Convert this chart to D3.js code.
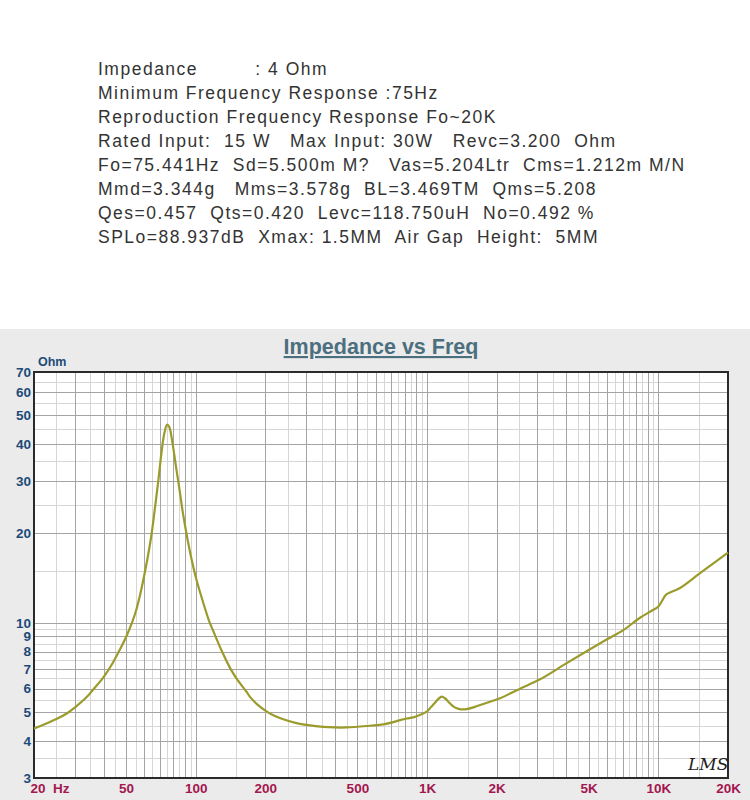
<!DOCTYPE html>
<html>
<head>
<meta charset="utf-8">
<script src="https://cdn.jsdelivr.net/npm/d3@7"></script>
<style>
  html, body { margin: 0; padding: 0; background: #fff; }
  svg { display: block; }
</style>
</head>
<body>
<div id="chart"></div>
<script>
// especificacoes do alto-falante (texto de cima)
var specLines = [
    "Impedance         : 4 Ohm",
    "Minimum Frequency Response :75Hz",
    "Reproduction Frequency Response Fo~20K",
    "Rated Input:  15 W   Max Input: 30W   Revc=3.200  Ohm",
    "Fo=75.441Hz  Sd=5.500m M?   Vas=5.204Ltr  Cms=1.212m M/N",
    "Mmd=3.344g   Mms=3.578g  BL=3.469TM  Qms=5.208",
    "Qes=0.457  Qts=0.420  Levc=118.750uH  No=0.492 %",
    "SPLo=88.937dB  Xmax: 1.5MM  Air Gap  Height:  5MM"
];

// curva de impedancia
var freqs = [20, 21.2, 25, 27.7, 30, 33.8, 36, 39.9, 43, 47.1, 50.3, 53.4, 55.6, 58, 61, 64.2,
    66.5, 68.9, 71.3, 73.2, 75.2, 76.8, 79.5, 82, 84.9, 88, 91, 95, 100, 105, 114, 119, 130,
    140.7, 150, 166, 172, 185, 203, 220, 239, 270, 302, 356, 400, 449, 549, 647, 715, 770, 817,
    872, 930, 997, 1040, 1083, 1120, 1157, 1195, 1236, 1290, 1344, 1400, 1485, 1600, 1751, 2068,
    2524, 3079, 4000, 5000, 6000, 7054, 8332, 9400, 10000, 10400, 10800, 12406, 15136, 20000];
var impedance = [4.4, 4.48, 4.74, 4.95, 5.18, 5.62, 5.95, 6.55, 7.15, 8.15, 9.05, 10.15, 11.2, 12.8, 15.5, 19.5,
    24, 30, 38, 43.5, 46.5, 45.8, 40, 34, 28.5, 23.5, 20.2, 17, 14.3, 12.5, 10.2, 9.4, 8.0,
    7.05, 6.5, 5.85, 5.62, 5.3, 5.02, 4.85, 4.73, 4.6, 4.53, 4.46, 4.44, 4.44, 4.49, 4.55, 4.63, 4.71, 4.76,
    4.8, 4.89, 5.02, 5.2, 5.38, 5.54, 5.64, 5.57, 5.42, 5.25, 5.15, 5.11, 5.12, 5.2, 5.33, 5.57,
    6.0, 6.45, 7.3, 8.1, 8.8, 9.45, 10.4, 11.0, 11.35, 11.9, 12.45, 13.1, 14.7, 17.25];

var xTickValues = [20, 50, 100, 200, 500, 1000, 2000, 5000, 10000, 20000];
var xTickLabels = ["20  Hz", "50", "100", "200", "500", "1K", "2K", "5K", "10K", "20K"];
var yTickValues = [3, 4, 5, 6, 7, 8, 9, 10, 20, 30, 40, 50, 60, 70];

var W = 750, H = 800;
var margem = {left: 34, right: 22, top: 372, bottom: 22};
var fonte = "'Liberation Sans', Arial, sans-serif";

var svg = d3.select("#chart").append("svg")
    .attr("width", W)
    .attr("height", H);

// bloco de texto
svg.append("g").selectAll("text")
    .data(specLines)
    .enter().append("text")
    .attr("x", 98)
    .attr("y", function(d, i) { return 75 + i * 24; })
    .attr("xml:space", "preserve")
    .style("white-space", "pre")
    .style("font-family", fonte)
    .style("font-size", "17.5px")
    .style("letter-spacing", "1.5px")
    .style("fill", "#333")
    .text(function(d) { return d; });

// fundo cinza do grafico
svg.append("rect")
    .attr("x", 0).attr("y", 329)
    .attr("width", W).attr("height", H - 329)
    .attr("fill", "#ebebeb");

var x = d3.scaleLog().domain([20, 20000]).range([margem.left, W - margem.right]);
var y = d3.scaleLog().domain([3, 70]).range([H - margem.bottom, margem.top]);

svg.append("rect")
    .attr("x", x(20)).attr("y", y(70))
    .attr("width", x(20000) - x(20)).attr("height", y(3) - y(70))
    .attr("fill", "#fff");

// linhas de grade: inteiras (escuras) e meios (claras)
var gradeX = [], gradeXmenor = [];
[10, 100, 1000, 10000].forEach(function(dec) {
    for (var k = 1; k < 10; k++) {
        var v = k * dec;
        if (v > 20 && v < 20000) gradeX.push(v);
        var m = (k + 0.5) * dec;
        if (m > 20 && m < 20000) gradeXmenor.push(m);
    }
});
var gradeY = [4, 5, 6, 7, 8, 9, 10, 20, 30, 40, 50, 60];
var gradeYmenor = [3.5, 4.5, 5.5, 6.5, 7.5, 8.5, 9.5, 15, 25, 35, 45, 55, 65];

var grade = svg.append("g").attr("class", "grade");
grade.selectAll(".vmenor").data(gradeXmenor).enter().append("line")
    .attr("x1", function(d) { return Math.round(x(d)) + 0.5; })
    .attr("x2", function(d) { return Math.round(x(d)) + 0.5; })
    .attr("y1", y(70)).attr("y2", y(3))
    .attr("stroke", "#d6d6d6");
grade.selectAll(".hmenor").data(gradeYmenor).enter().append("line")
    .attr("y1", function(d) { return Math.round(y(d)) + 0.5; })
    .attr("y2", function(d) { return Math.round(y(d)) + 0.5; })
    .attr("x1", x(20)).attr("x2", x(20000))
    .attr("stroke", "#d6d6d6");
grade.selectAll(".v").data(gradeX).enter().append("line")
    .attr("x1", function(d) { return Math.round(x(d)) + 0.5; })
    .attr("x2", function(d) { return Math.round(x(d)) + 0.5; })
    .attr("y1", y(70)).attr("y2", y(3))
    .attr("stroke", "#a4a4a4");
grade.selectAll(".h").data(gradeY).enter().append("line")
    .attr("y1", function(d) { return Math.round(y(d)) + 0.5; })
    .attr("y2", function(d) { return Math.round(y(d)) + 0.5; })
    .attr("x1", x(20)).attr("x2", x(20000))
    .attr("stroke", "#a4a4a4");

// moldura
svg.append("rect")
    .attr("x", x(20)).attr("y", y(70))
    .attr("width", x(20000) - x(20)).attr("height", y(3) - y(70))
    .attr("fill", "none")
    .attr("stroke", "#2a2a2a")
    .attr("stroke-width", 2);

// curva
var dados = freqs.map(function(f, i) { return [f, impedance[i]]; });
var linha = d3.line()
    .x(function(d) { return x(d[0]); })
    .y(function(d) { return y(d[1]); })
    .curve(d3.curveCatmullRom.alpha(0.5));
svg.append("path")
    .datum(dados)
    .attr("d", linha)
    .attr("fill", "none")
    .attr("stroke", "#9b9b2c")
    .attr("stroke-width", 2.2);

// eixo y
var eixoY = d3.axisLeft(y).tickValues(yTickValues).tickFormat(d3.format("d")).tickSize(0).tickPadding(3);
var gy = svg.append("g").attr("transform", "translate(" + x(20) + ",0)").call(eixoY);
gy.select(".domain").remove();
gy.selectAll("text")
    .style("font-family", fonte)
    .style("font-size", "13.5px")
    .style("font-weight", "bold")
    .style("fill", "#1d4a78");

// eixo x
var eixoX = d3.axisBottom(x).tickValues(xTickValues)
    .tickFormat(function(d, i) { return xTickLabels[i]; })
    .tickSize(0).tickPadding(5);
var gx = svg.append("g").attr("transform", "translate(0," + y(3) + ")").call(eixoX);
gx.select(".domain").remove();
gx.selectAll("text")
    .attr("xml:space", "preserve")
    .style("white-space", "pre")
    .style("font-family", fonte)
    .style("font-size", "13.5px")
    .style("font-weight", "bold")
    .style("fill", "#a3174f");
gx.selectAll(".tick").filter(function(d) { return d === 20; }).select("text")
    .attr("text-anchor", "start").attr("x", -4);

svg.append("text")
    .attr("x", 38).attr("y", 366)
    .style("font-family", fonte)
    .style("font-size", "12.5px")
    .style("font-weight", "bold")
    .style("fill", "#1d4a78")
    .text("Ohm");

// titulo
svg.append("text")
    .attr("x", 381).attr("y", 354)
    .attr("text-anchor", "middle")
    .style("font-family", fonte)
    .style("font-size", "21.5px")
    .style("font-weight", "bold")
    .style("text-decoration", "underline")
    .style("fill", "#4c6f80")
    .text("Impedance vs Freq");

// marca LMS
svg.append("text")
    .attr("x", 688).attr("y", 770)
    .style("font-family", "'DejaVu Serif', serif")
    .style("font-style", "italic")
    .style("font-size", "17px")
    .style("fill", "#222")
    .text("LMS");
</script>
</body>
</html>
